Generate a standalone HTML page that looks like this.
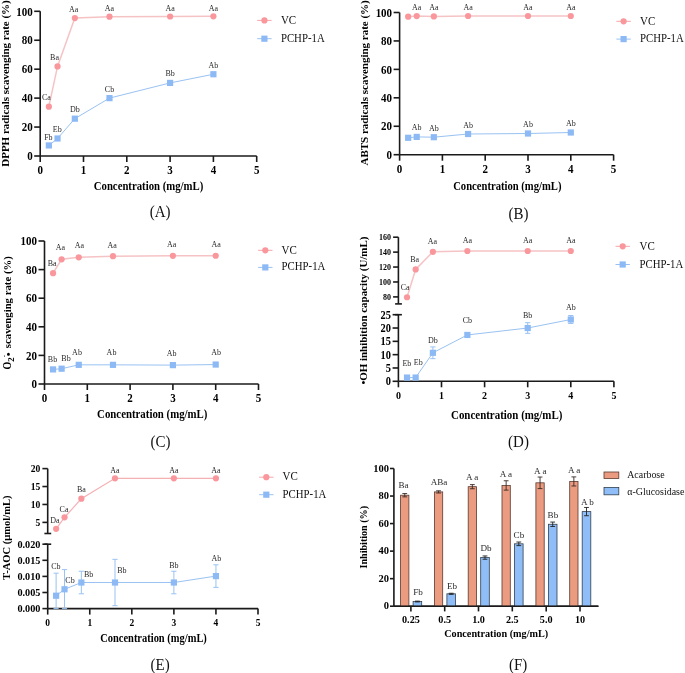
<!DOCTYPE html>
<html><head><meta charset="utf-8"><style>
html,body{margin:0;padding:0;background:#fff;}
svg{display:block;font-family:"Liberation Serif",serif;will-change:transform;}
</style></head><body>
<svg width="685" height="673" viewBox="0 0 685 673">
<rect width="685" height="673" fill="#fff"/>
<line x1="40.20" y1="11.30" x2="40.20" y2="156.00" stroke="#1a1a1a" stroke-width="1.6"/>
<line x1="34.20" y1="156.00" x2="40.20" y2="156.00" stroke="#1a1a1a" stroke-width="1.6"/>
<text font-size="11" font-weight="bold" text-anchor="end" fill="#000" transform="translate(32.70 160.20) scale(1 1.13)">0</text>
<line x1="34.20" y1="127.06" x2="40.20" y2="127.06" stroke="#1a1a1a" stroke-width="1.6"/>
<text font-size="11" font-weight="bold" text-anchor="end" fill="#000" transform="translate(32.70 131.26) scale(1 1.13)">20</text>
<line x1="34.20" y1="98.12" x2="40.20" y2="98.12" stroke="#1a1a1a" stroke-width="1.6"/>
<text font-size="11" font-weight="bold" text-anchor="end" fill="#000" transform="translate(32.70 102.32) scale(1 1.13)">40</text>
<line x1="34.20" y1="69.18" x2="40.20" y2="69.18" stroke="#1a1a1a" stroke-width="1.6"/>
<text font-size="11" font-weight="bold" text-anchor="end" fill="#000" transform="translate(32.70 73.38) scale(1 1.13)">60</text>
<line x1="34.20" y1="40.24" x2="40.20" y2="40.24" stroke="#1a1a1a" stroke-width="1.6"/>
<text font-size="11" font-weight="bold" text-anchor="end" fill="#000" transform="translate(32.70 44.44) scale(1 1.13)">80</text>
<line x1="34.20" y1="11.30" x2="40.20" y2="11.30" stroke="#1a1a1a" stroke-width="1.6"/>
<text font-size="11" font-weight="bold" text-anchor="end" fill="#000" transform="translate(32.70 15.50) scale(1 1.13)">100</text>
<line x1="40.20" y1="156.00" x2="256.70" y2="156.00" stroke="#1a1a1a" stroke-width="1.6"/>
<line x1="40.20" y1="156.00" x2="40.20" y2="162.00" stroke="#1a1a1a" stroke-width="1.6"/>
<text font-size="11" font-weight="bold" text-anchor="middle" fill="#000" transform="translate(40.20 174.00) scale(1 1.13)">0</text>
<line x1="83.50" y1="156.00" x2="83.50" y2="162.00" stroke="#1a1a1a" stroke-width="1.6"/>
<text font-size="11" font-weight="bold" text-anchor="middle" fill="#000" transform="translate(83.50 174.00) scale(1 1.13)">1</text>
<line x1="126.80" y1="156.00" x2="126.80" y2="162.00" stroke="#1a1a1a" stroke-width="1.6"/>
<text font-size="11" font-weight="bold" text-anchor="middle" fill="#000" transform="translate(126.80 174.00) scale(1 1.13)">2</text>
<line x1="170.10" y1="156.00" x2="170.10" y2="162.00" stroke="#1a1a1a" stroke-width="1.6"/>
<text font-size="11" font-weight="bold" text-anchor="middle" fill="#000" transform="translate(170.10 174.00) scale(1 1.13)">3</text>
<line x1="213.40" y1="156.00" x2="213.40" y2="162.00" stroke="#1a1a1a" stroke-width="1.6"/>
<text font-size="11" font-weight="bold" text-anchor="middle" fill="#000" transform="translate(213.40 174.00) scale(1 1.13)">4</text>
<line x1="256.70" y1="156.00" x2="256.70" y2="162.00" stroke="#1a1a1a" stroke-width="1.6"/>
<text font-size="11" font-weight="bold" text-anchor="middle" fill="#000" transform="translate(256.70 174.00) scale(1 1.13)">5</text>
<polyline points="48.86,106.66 57.52,66.43 74.84,18.10 109.48,16.65 170.10,16.51 213.40,16.36" fill="none" stroke="#F6C3C5" stroke-width="1.5"/>
<polyline points="48.86,145.44 57.52,138.49 74.84,118.67 109.48,98.12 170.10,82.93 213.40,74.24" fill="none" stroke="#99C2F2" stroke-width="1.0"/>
<circle cx="48.86" cy="106.66" r="3.1" fill="#F9979C"/>
<circle cx="57.52" cy="66.43" r="3.1" fill="#F9979C"/>
<circle cx="74.84" cy="18.10" r="3.1" fill="#F9979C"/>
<circle cx="109.48" cy="16.65" r="3.1" fill="#F9979C"/>
<circle cx="170.10" cy="16.51" r="3.1" fill="#F9979C"/>
<circle cx="213.40" cy="16.36" r="3.1" fill="#F9979C"/>
<rect x="45.76" y="142.34" width="6.2" height="6.2" fill="#8DBAF5"/>
<rect x="54.42" y="135.39" width="6.2" height="6.2" fill="#8DBAF5"/>
<rect x="71.74" y="115.57" width="6.2" height="6.2" fill="#8DBAF5"/>
<rect x="106.38" y="95.02" width="6.2" height="6.2" fill="#8DBAF5"/>
<rect x="167.00" y="79.83" width="6.2" height="6.2" fill="#8DBAF5"/>
<rect x="210.30" y="71.14" width="6.2" height="6.2" fill="#8DBAF5"/>
<text font-size="8" text-anchor="middle" fill="#2a2a2a" transform="translate(46.36 100.16) scale(1 1.13)">Ca</text>
<text font-size="8" text-anchor="middle" fill="#2a2a2a" transform="translate(54.52 59.93) scale(1 1.13)">Ba</text>
<text font-size="8" text-anchor="middle" fill="#2a2a2a" transform="translate(73.64 11.70) scale(1 1.13)">Aa</text>
<text font-size="8" text-anchor="middle" fill="#2a2a2a" transform="translate(109.48 10.95) scale(1 1.13)">Aa</text>
<text font-size="8" text-anchor="middle" fill="#2a2a2a" transform="translate(170.10 10.81) scale(1 1.13)">Aa</text>
<text font-size="8" text-anchor="middle" fill="#2a2a2a" transform="translate(213.40 10.66) scale(1 1.13)">Aa</text>
<text font-size="8" text-anchor="middle" fill="#2a2a2a" transform="translate(48.36 140.44) scale(1 1.13)">Fb</text>
<text font-size="8" text-anchor="middle" fill="#2a2a2a" transform="translate(57.22 131.79) scale(1 1.13)">Eb</text>
<text font-size="8" text-anchor="middle" fill="#2a2a2a" transform="translate(74.84 112.17) scale(1 1.13)">Db</text>
<text font-size="8" text-anchor="middle" fill="#2a2a2a" transform="translate(109.48 91.62) scale(1 1.13)">Cb</text>
<text font-size="8" text-anchor="middle" fill="#2a2a2a" transform="translate(170.10 76.43) scale(1 1.13)">Bb</text>
<text font-size="8" text-anchor="middle" fill="#2a2a2a" transform="translate(213.40 67.74) scale(1 1.13)">Ab</text>
<text font-size="11" font-weight="bold" text-anchor="middle" fill="#000" transform="translate(9.00 83.50) rotate(-90)" textLength="166.5" lengthAdjust="spacingAndGlyphs">DPPH radicals scavenging rate (%)</text>
<text font-size="11" font-weight="bold" text-anchor="middle" fill="#000" transform="translate(148.50 190.00) scale(1 1.13)" textLength="109.5" lengthAdjust="spacingAndGlyphs">Concentration (mg/mL)</text>
<text font-size="15" text-anchor="middle" fill="#111" transform="translate(160.10 217.30) scale(1 1.13)">(A)</text>
<line x1="257.20" y1="20.40" x2="271.60" y2="20.40" stroke="#F6A5A8" stroke-width="1.0"/>
<circle cx="264.40" cy="20.40" r="3.1" fill="#F9979C"/>
<line x1="257.20" y1="38.70" x2="271.60" y2="38.70" stroke="#99C2F2" stroke-width="1.0"/>
<rect x="261.30" y="35.60" width="6.2" height="6.2" fill="#8DBAF5"/>
<text font-size="11" text-anchor="start" fill="#111" transform="translate(280.90 23.60) scale(1 1.15)">VC</text>
<text font-size="11" text-anchor="start" fill="#111" transform="translate(280.90 41.70) scale(1 1.15)" textLength="43.8" lengthAdjust="spacingAndGlyphs">PCHP-1A</text>
<line x1="399.60" y1="12.50" x2="399.60" y2="154.70" stroke="#1a1a1a" stroke-width="1.6"/>
<line x1="393.60" y1="154.70" x2="399.60" y2="154.70" stroke="#1a1a1a" stroke-width="1.6"/>
<text font-size="11" font-weight="bold" text-anchor="end" fill="#000" transform="translate(392.10 158.90) scale(1 1.13)">0</text>
<line x1="393.60" y1="126.26" x2="399.60" y2="126.26" stroke="#1a1a1a" stroke-width="1.6"/>
<text font-size="11" font-weight="bold" text-anchor="end" fill="#000" transform="translate(392.10 130.46) scale(1 1.13)">20</text>
<line x1="393.60" y1="97.82" x2="399.60" y2="97.82" stroke="#1a1a1a" stroke-width="1.6"/>
<text font-size="11" font-weight="bold" text-anchor="end" fill="#000" transform="translate(392.10 102.02) scale(1 1.13)">40</text>
<line x1="393.60" y1="69.38" x2="399.60" y2="69.38" stroke="#1a1a1a" stroke-width="1.6"/>
<text font-size="11" font-weight="bold" text-anchor="end" fill="#000" transform="translate(392.10 73.58) scale(1 1.13)">60</text>
<line x1="393.60" y1="40.94" x2="399.60" y2="40.94" stroke="#1a1a1a" stroke-width="1.6"/>
<text font-size="11" font-weight="bold" text-anchor="end" fill="#000" transform="translate(392.10 45.14) scale(1 1.13)">80</text>
<line x1="393.60" y1="12.50" x2="399.60" y2="12.50" stroke="#1a1a1a" stroke-width="1.6"/>
<text font-size="11" font-weight="bold" text-anchor="end" fill="#000" transform="translate(392.10 16.70) scale(1 1.13)">100</text>
<line x1="399.60" y1="154.70" x2="613.60" y2="154.70" stroke="#1a1a1a" stroke-width="1.6"/>
<line x1="399.60" y1="154.70" x2="399.60" y2="160.70" stroke="#1a1a1a" stroke-width="1.6"/>
<text font-size="11" font-weight="bold" text-anchor="middle" fill="#000" transform="translate(399.60 173.40) scale(1 1.13)">0</text>
<line x1="442.40" y1="154.70" x2="442.40" y2="160.70" stroke="#1a1a1a" stroke-width="1.6"/>
<text font-size="11" font-weight="bold" text-anchor="middle" fill="#000" transform="translate(442.40 173.40) scale(1 1.13)">1</text>
<line x1="485.20" y1="154.70" x2="485.20" y2="160.70" stroke="#1a1a1a" stroke-width="1.6"/>
<text font-size="11" font-weight="bold" text-anchor="middle" fill="#000" transform="translate(485.20 173.40) scale(1 1.13)">2</text>
<line x1="528.00" y1="154.70" x2="528.00" y2="160.70" stroke="#1a1a1a" stroke-width="1.6"/>
<text font-size="11" font-weight="bold" text-anchor="middle" fill="#000" transform="translate(528.00 173.40) scale(1 1.13)">3</text>
<line x1="570.80" y1="154.70" x2="570.80" y2="160.70" stroke="#1a1a1a" stroke-width="1.6"/>
<text font-size="11" font-weight="bold" text-anchor="middle" fill="#000" transform="translate(570.80 173.40) scale(1 1.13)">4</text>
<line x1="613.60" y1="154.70" x2="613.60" y2="160.70" stroke="#1a1a1a" stroke-width="1.6"/>
<text font-size="11" font-weight="bold" text-anchor="middle" fill="#000" transform="translate(613.60 173.40) scale(1 1.13)">5</text>
<polyline points="408.16,16.70 416.72,16.10 433.84,16.40 468.08,16.00 528.00,16.00 570.80,16.00" fill="none" stroke="#F6C3C5" stroke-width="1.5"/>
<polyline points="408.16,137.80 416.72,136.90 433.84,137.20 468.08,134.00 528.00,133.50 570.80,132.50" fill="none" stroke="#99C2F2" stroke-width="1.0"/>
<circle cx="408.16" cy="16.70" r="3.1" fill="#F9979C"/>
<circle cx="416.72" cy="16.10" r="3.1" fill="#F9979C"/>
<circle cx="433.84" cy="16.40" r="3.1" fill="#F9979C"/>
<circle cx="468.08" cy="16.00" r="3.1" fill="#F9979C"/>
<circle cx="528.00" cy="16.00" r="3.1" fill="#F9979C"/>
<circle cx="570.80" cy="16.00" r="3.1" fill="#F9979C"/>
<rect x="405.06" y="134.70" width="6.2" height="6.2" fill="#8DBAF5"/>
<rect x="413.62" y="133.80" width="6.2" height="6.2" fill="#8DBAF5"/>
<rect x="430.74" y="134.10" width="6.2" height="6.2" fill="#8DBAF5"/>
<rect x="464.98" y="130.90" width="6.2" height="6.2" fill="#8DBAF5"/>
<rect x="524.90" y="130.40" width="6.2" height="6.2" fill="#8DBAF5"/>
<rect x="567.70" y="129.40" width="6.2" height="6.2" fill="#8DBAF5"/>
<text font-size="8" text-anchor="middle" fill="#2a2a2a" transform="translate(416.72 9.80) scale(1 1.13)">Aa</text>
<text font-size="8" text-anchor="middle" fill="#2a2a2a" transform="translate(433.84 10.10) scale(1 1.13)">Aa</text>
<text font-size="8" text-anchor="middle" fill="#2a2a2a" transform="translate(468.08 9.70) scale(1 1.13)">Aa</text>
<text font-size="8" text-anchor="middle" fill="#2a2a2a" transform="translate(528.00 9.70) scale(1 1.13)">Aa</text>
<text font-size="8" text-anchor="middle" fill="#2a2a2a" transform="translate(570.80 9.70) scale(1 1.13)">Aa</text>
<text font-size="8" text-anchor="middle" fill="#2a2a2a" transform="translate(416.72 130.40) scale(1 1.13)">Ab</text>
<text font-size="8" text-anchor="middle" fill="#2a2a2a" transform="translate(433.84 130.70) scale(1 1.13)">Ab</text>
<text font-size="8" text-anchor="middle" fill="#2a2a2a" transform="translate(468.08 127.50) scale(1 1.13)">Ab</text>
<text font-size="8" text-anchor="middle" fill="#2a2a2a" transform="translate(528.00 127.00) scale(1 1.13)">Ab</text>
<text font-size="8" text-anchor="middle" fill="#2a2a2a" transform="translate(570.80 126.00) scale(1 1.13)">Ab</text>
<text font-size="11" font-weight="bold" text-anchor="middle" fill="#000" transform="translate(367.70 82.90) rotate(-90)" textLength="165.3" lengthAdjust="spacingAndGlyphs">ABTS radicals scavenging rate (%)</text>
<text font-size="11" font-weight="bold" text-anchor="middle" fill="#000" transform="translate(507.30 189.70) scale(1 1.13)" textLength="108.3" lengthAdjust="spacingAndGlyphs">Concentration (mg/mL)</text>
<text font-size="15" text-anchor="middle" fill="#111" transform="translate(518.40 218.60) scale(1 1.13)">(B)</text>
<line x1="616.40" y1="21.30" x2="630.80" y2="21.30" stroke="#F6A5A8" stroke-width="1.0"/>
<circle cx="623.60" cy="21.30" r="3.1" fill="#F9979C"/>
<line x1="616.40" y1="39.10" x2="630.80" y2="39.10" stroke="#99C2F2" stroke-width="1.0"/>
<rect x="620.50" y="36.00" width="6.2" height="6.2" fill="#8DBAF5"/>
<text font-size="11" text-anchor="start" fill="#111" transform="translate(640.00 24.50) scale(1 1.15)">VC</text>
<text font-size="11" text-anchor="start" fill="#111" transform="translate(640.00 42.10) scale(1 1.15)" textLength="43.8" lengthAdjust="spacingAndGlyphs">PCHP-1A</text>
<line x1="44.50" y1="241.00" x2="44.50" y2="384.00" stroke="#1a1a1a" stroke-width="1.6"/>
<line x1="38.50" y1="384.00" x2="44.50" y2="384.00" stroke="#1a1a1a" stroke-width="1.6"/>
<text font-size="11" font-weight="bold" text-anchor="end" fill="#000" transform="translate(37.00 388.20) scale(1 1.13)">0</text>
<line x1="38.50" y1="355.40" x2="44.50" y2="355.40" stroke="#1a1a1a" stroke-width="1.6"/>
<text font-size="11" font-weight="bold" text-anchor="end" fill="#000" transform="translate(37.00 359.60) scale(1 1.13)">20</text>
<line x1="38.50" y1="326.80" x2="44.50" y2="326.80" stroke="#1a1a1a" stroke-width="1.6"/>
<text font-size="11" font-weight="bold" text-anchor="end" fill="#000" transform="translate(37.00 331.00) scale(1 1.13)">40</text>
<line x1="38.50" y1="298.20" x2="44.50" y2="298.20" stroke="#1a1a1a" stroke-width="1.6"/>
<text font-size="11" font-weight="bold" text-anchor="end" fill="#000" transform="translate(37.00 302.40) scale(1 1.13)">60</text>
<line x1="38.50" y1="269.60" x2="44.50" y2="269.60" stroke="#1a1a1a" stroke-width="1.6"/>
<text font-size="11" font-weight="bold" text-anchor="end" fill="#000" transform="translate(37.00 273.80) scale(1 1.13)">80</text>
<line x1="38.50" y1="241.00" x2="44.50" y2="241.00" stroke="#1a1a1a" stroke-width="1.6"/>
<text font-size="11" font-weight="bold" text-anchor="end" fill="#000" transform="translate(37.00 245.20) scale(1 1.13)">100</text>
<line x1="44.50" y1="384.00" x2="258.50" y2="384.00" stroke="#1a1a1a" stroke-width="1.6"/>
<line x1="44.50" y1="384.00" x2="44.50" y2="390.00" stroke="#1a1a1a" stroke-width="1.6"/>
<text font-size="11" font-weight="bold" text-anchor="middle" fill="#000" transform="translate(44.50 402.00) scale(1 1.13)">0</text>
<line x1="87.30" y1="384.00" x2="87.30" y2="390.00" stroke="#1a1a1a" stroke-width="1.6"/>
<text font-size="11" font-weight="bold" text-anchor="middle" fill="#000" transform="translate(87.30 402.00) scale(1 1.13)">1</text>
<line x1="130.10" y1="384.00" x2="130.10" y2="390.00" stroke="#1a1a1a" stroke-width="1.6"/>
<text font-size="11" font-weight="bold" text-anchor="middle" fill="#000" transform="translate(130.10 402.00) scale(1 1.13)">2</text>
<line x1="172.90" y1="384.00" x2="172.90" y2="390.00" stroke="#1a1a1a" stroke-width="1.6"/>
<text font-size="11" font-weight="bold" text-anchor="middle" fill="#000" transform="translate(172.90 402.00) scale(1 1.13)">3</text>
<line x1="215.70" y1="384.00" x2="215.70" y2="390.00" stroke="#1a1a1a" stroke-width="1.6"/>
<text font-size="11" font-weight="bold" text-anchor="middle" fill="#000" transform="translate(215.70 402.00) scale(1 1.13)">4</text>
<line x1="258.50" y1="384.00" x2="258.50" y2="390.00" stroke="#1a1a1a" stroke-width="1.6"/>
<text font-size="11" font-weight="bold" text-anchor="middle" fill="#000" transform="translate(258.50 402.00) scale(1 1.13)">5</text>
<polyline points="53.06,273.18 61.62,259.30 78.74,257.30 112.98,256.16 172.90,255.87 215.70,255.73" fill="none" stroke="#F6C3C5" stroke-width="1.5"/>
<polyline points="53.06,369.41 61.62,368.70 78.74,364.84 112.98,364.84 172.90,365.12 215.70,364.55" fill="none" stroke="#99C2F2" stroke-width="1.0"/>
<circle cx="53.06" cy="273.18" r="3.1" fill="#F9979C"/>
<circle cx="61.62" cy="259.30" r="3.1" fill="#F9979C"/>
<circle cx="78.74" cy="257.30" r="3.1" fill="#F9979C"/>
<circle cx="112.98" cy="256.16" r="3.1" fill="#F9979C"/>
<circle cx="172.90" cy="255.87" r="3.1" fill="#F9979C"/>
<circle cx="215.70" cy="255.73" r="3.1" fill="#F9979C"/>
<rect x="49.96" y="366.31" width="6.2" height="6.2" fill="#8DBAF5"/>
<rect x="58.52" y="365.60" width="6.2" height="6.2" fill="#8DBAF5"/>
<rect x="75.64" y="361.74" width="6.2" height="6.2" fill="#8DBAF5"/>
<rect x="109.88" y="361.74" width="6.2" height="6.2" fill="#8DBAF5"/>
<rect x="169.80" y="362.02" width="6.2" height="6.2" fill="#8DBAF5"/>
<rect x="212.60" y="361.45" width="6.2" height="6.2" fill="#8DBAF5"/>
<text font-size="8" text-anchor="middle" fill="#2a2a2a" transform="translate(52.10 265.60) scale(1 1.13)">Ba</text>
<text font-size="8" text-anchor="middle" fill="#2a2a2a" transform="translate(60.30 250.40) scale(1 1.13)">Aa</text>
<text font-size="8" text-anchor="middle" fill="#2a2a2a" transform="translate(79.30 248.10) scale(1 1.13)">Aa</text>
<text font-size="8" text-anchor="middle" fill="#2a2a2a" transform="translate(112.10 247.70) scale(1 1.13)">Aa</text>
<text font-size="8" text-anchor="middle" fill="#2a2a2a" transform="translate(171.70 246.80) scale(1 1.13)">Aa</text>
<text font-size="8" text-anchor="middle" fill="#2a2a2a" transform="translate(216.10 246.60) scale(1 1.13)">Aa</text>
<text font-size="8" text-anchor="middle" fill="#2a2a2a" transform="translate(52.50 361.70) scale(1 1.13)">Bb</text>
<text font-size="8" text-anchor="middle" fill="#2a2a2a" transform="translate(66.00 360.90) scale(1 1.13)">Bb</text>
<text font-size="8" text-anchor="middle" fill="#2a2a2a" transform="translate(77.00 355.30) scale(1 1.13)">Ab</text>
<text font-size="8" text-anchor="middle" fill="#2a2a2a" transform="translate(111.50 355.30) scale(1 1.13)">Ab</text>
<text font-size="8" text-anchor="middle" fill="#2a2a2a" transform="translate(171.70 355.90) scale(1 1.13)">Ab</text>
<text font-size="8" text-anchor="middle" fill="#2a2a2a" transform="translate(216.10 354.90) scale(1 1.13)">Ab</text>
<g transform="translate(11.2 369.2) rotate(-90)" font-weight="bold"><text x="-0.3" y="0" font-size="12" textLength="7.8" lengthAdjust="spacingAndGlyphs">O</text><text x="7.5" y="2.4" font-size="9">2</text><text x="12.0" y="-5.0" font-size="7">-</text><text x="13.0" y="0.5" font-size="11">•</text><text x="21.0" y="0" font-size="11" textLength="92" lengthAdjust="spacingAndGlyphs">scavenging rate (%)</text></g>
<text font-size="11" font-weight="bold" text-anchor="middle" fill="#000" transform="translate(152.25 417.90) scale(1 1.13)" textLength="110.3" lengthAdjust="spacingAndGlyphs">Concentration (mg/mL)</text>
<text font-size="15" text-anchor="middle" fill="#111" transform="translate(160.40 447.30) scale(1 1.13)">(C)</text>
<line x1="258.10" y1="250.30" x2="272.50" y2="250.30" stroke="#F6A5A8" stroke-width="1.0"/>
<circle cx="265.30" cy="250.30" r="3.1" fill="#F9979C"/>
<line x1="258.10" y1="267.40" x2="272.50" y2="267.40" stroke="#99C2F2" stroke-width="1.0"/>
<rect x="262.20" y="264.30" width="6.2" height="6.2" fill="#8DBAF5"/>
<text font-size="11" text-anchor="start" fill="#111" transform="translate(281.60 253.50) scale(1 1.15)">VC</text>
<text font-size="11" text-anchor="start" fill="#111" transform="translate(281.60 270.40) scale(1 1.15)" textLength="43.8" lengthAdjust="spacingAndGlyphs">PCHP-1A</text>
<line x1="398.40" y1="237.20" x2="398.40" y2="303.90" stroke="#1a1a1a" stroke-width="1.6"/>
<line x1="395.10" y1="303.90" x2="401.90" y2="303.90" stroke="#1a1a1a" stroke-width="1.6"/>
<line x1="393.10" y1="296.90" x2="398.40" y2="296.90" stroke="#1a1a1a" stroke-width="1.6"/>
<text font-size="8" font-weight="bold" text-anchor="end" fill="#000" transform="translate(391.10 299.96) scale(1 1.13)">80</text>
<line x1="393.10" y1="281.97" x2="398.40" y2="281.97" stroke="#1a1a1a" stroke-width="1.6"/>
<text font-size="8" font-weight="bold" text-anchor="end" fill="#000" transform="translate(391.10 285.03) scale(1 1.13)">100</text>
<line x1="393.10" y1="267.05" x2="398.40" y2="267.05" stroke="#1a1a1a" stroke-width="1.6"/>
<text font-size="8" font-weight="bold" text-anchor="end" fill="#000" transform="translate(391.10 270.11) scale(1 1.13)">120</text>
<line x1="393.10" y1="252.12" x2="398.40" y2="252.12" stroke="#1a1a1a" stroke-width="1.6"/>
<text font-size="8" font-weight="bold" text-anchor="end" fill="#000" transform="translate(391.10 255.18) scale(1 1.13)">140</text>
<line x1="393.10" y1="237.20" x2="398.40" y2="237.20" stroke="#1a1a1a" stroke-width="1.6"/>
<text font-size="8" font-weight="bold" text-anchor="end" fill="#000" transform="translate(391.10 240.26) scale(1 1.13)">160</text>
<line x1="398.40" y1="314.70" x2="398.40" y2="381.30" stroke="#1a1a1a" stroke-width="1.6"/>
<line x1="395.10" y1="314.70" x2="401.90" y2="314.70" stroke="#1a1a1a" stroke-width="1.6"/>
<line x1="392.60" y1="381.30" x2="398.40" y2="381.30" stroke="#1a1a1a" stroke-width="1.6"/>
<text font-size="10.4" font-weight="bold" text-anchor="end" fill="#000" transform="translate(391.00 385.27) scale(1 1.13)">0</text>
<line x1="392.60" y1="367.98" x2="398.40" y2="367.98" stroke="#1a1a1a" stroke-width="1.6"/>
<text font-size="10.4" font-weight="bold" text-anchor="end" fill="#000" transform="translate(391.00 371.95) scale(1 1.13)">5</text>
<line x1="392.60" y1="354.66" x2="398.40" y2="354.66" stroke="#1a1a1a" stroke-width="1.6"/>
<text font-size="10.4" font-weight="bold" text-anchor="end" fill="#000" transform="translate(391.00 358.63) scale(1 1.13)">10</text>
<line x1="392.60" y1="341.34" x2="398.40" y2="341.34" stroke="#1a1a1a" stroke-width="1.6"/>
<text font-size="10.4" font-weight="bold" text-anchor="end" fill="#000" transform="translate(391.00 345.31) scale(1 1.13)">15</text>
<line x1="392.60" y1="328.02" x2="398.40" y2="328.02" stroke="#1a1a1a" stroke-width="1.6"/>
<text font-size="10.4" font-weight="bold" text-anchor="end" fill="#000" transform="translate(391.00 331.99) scale(1 1.13)">20</text>
<line x1="392.60" y1="314.70" x2="398.40" y2="314.70" stroke="#1a1a1a" stroke-width="1.6"/>
<text font-size="10.4" font-weight="bold" text-anchor="end" fill="#000" transform="translate(391.00 318.67) scale(1 1.13)">25</text>
<line x1="398.40" y1="381.30" x2="613.90" y2="381.30" stroke="#1a1a1a" stroke-width="1.6"/>
<line x1="398.40" y1="381.30" x2="398.40" y2="387.30" stroke="#1a1a1a" stroke-width="1.6"/>
<text font-size="10" font-weight="bold" text-anchor="middle" fill="#000" transform="translate(398.40 398.90) scale(1 1.13)">0</text>
<line x1="441.50" y1="381.30" x2="441.50" y2="387.30" stroke="#1a1a1a" stroke-width="1.6"/>
<text font-size="10" font-weight="bold" text-anchor="middle" fill="#000" transform="translate(441.50 398.90) scale(1 1.13)">1</text>
<line x1="484.60" y1="381.30" x2="484.60" y2="387.30" stroke="#1a1a1a" stroke-width="1.6"/>
<text font-size="10" font-weight="bold" text-anchor="middle" fill="#000" transform="translate(484.60 398.90) scale(1 1.13)">2</text>
<line x1="527.70" y1="381.30" x2="527.70" y2="387.30" stroke="#1a1a1a" stroke-width="1.6"/>
<text font-size="10" font-weight="bold" text-anchor="middle" fill="#000" transform="translate(527.70 398.90) scale(1 1.13)">3</text>
<line x1="570.80" y1="381.30" x2="570.80" y2="387.30" stroke="#1a1a1a" stroke-width="1.6"/>
<text font-size="10" font-weight="bold" text-anchor="middle" fill="#000" transform="translate(570.80 398.90) scale(1 1.13)">4</text>
<line x1="613.90" y1="381.30" x2="613.90" y2="387.30" stroke="#1a1a1a" stroke-width="1.6"/>
<text font-size="10" font-weight="bold" text-anchor="middle" fill="#000" transform="translate(613.90 398.90) scale(1 1.13)">5</text>
<polyline points="407.02,297.27 415.64,269.44 432.88,251.83 467.36,251.01 527.70,251.01 570.80,251.01" fill="none" stroke="#F6C3C5" stroke-width="1.5"/>
<polyline points="407.02,377.57 415.64,377.57 432.88,352.80 467.36,334.95 527.70,328.02 570.80,319.50" fill="none" stroke="#99C2F2" stroke-width="1.0"/>
<line x1="407.02" y1="376.50" x2="407.02" y2="378.64" stroke="#99C2F2" stroke-width="1.0"/>
<line x1="404.42" y1="376.50" x2="409.62" y2="376.50" stroke="#99C2F2" stroke-width="1.0"/>
<line x1="404.42" y1="378.64" x2="409.62" y2="378.64" stroke="#99C2F2" stroke-width="1.0"/>
<line x1="415.64" y1="376.50" x2="415.64" y2="378.64" stroke="#99C2F2" stroke-width="1.0"/>
<line x1="413.04" y1="376.50" x2="418.24" y2="376.50" stroke="#99C2F2" stroke-width="1.0"/>
<line x1="413.04" y1="378.64" x2="418.24" y2="378.64" stroke="#99C2F2" stroke-width="1.0"/>
<line x1="432.88" y1="346.93" x2="432.88" y2="358.66" stroke="#99C2F2" stroke-width="1.0"/>
<line x1="430.28" y1="346.93" x2="435.48" y2="346.93" stroke="#99C2F2" stroke-width="1.0"/>
<line x1="430.28" y1="358.66" x2="435.48" y2="358.66" stroke="#99C2F2" stroke-width="1.0"/>
<line x1="467.36" y1="333.35" x2="467.36" y2="336.54" stroke="#99C2F2" stroke-width="1.0"/>
<line x1="464.76" y1="333.35" x2="469.96" y2="333.35" stroke="#99C2F2" stroke-width="1.0"/>
<line x1="464.76" y1="336.54" x2="469.96" y2="336.54" stroke="#99C2F2" stroke-width="1.0"/>
<line x1="527.70" y1="322.69" x2="527.70" y2="333.35" stroke="#99C2F2" stroke-width="1.0"/>
<line x1="525.10" y1="322.69" x2="530.30" y2="322.69" stroke="#99C2F2" stroke-width="1.0"/>
<line x1="525.10" y1="333.35" x2="530.30" y2="333.35" stroke="#99C2F2" stroke-width="1.0"/>
<line x1="570.80" y1="315.50" x2="570.80" y2="323.49" stroke="#99C2F2" stroke-width="1.0"/>
<line x1="568.20" y1="315.50" x2="573.40" y2="315.50" stroke="#99C2F2" stroke-width="1.0"/>
<line x1="568.20" y1="323.49" x2="573.40" y2="323.49" stroke="#99C2F2" stroke-width="1.0"/>
<circle cx="407.02" cy="297.27" r="3.1" fill="#F9979C"/>
<circle cx="415.64" cy="269.44" r="3.1" fill="#F9979C"/>
<circle cx="432.88" cy="251.83" r="3.1" fill="#F9979C"/>
<circle cx="467.36" cy="251.01" r="3.1" fill="#F9979C"/>
<circle cx="527.70" cy="251.01" r="3.1" fill="#F9979C"/>
<circle cx="570.80" cy="251.01" r="3.1" fill="#F9979C"/>
<rect x="403.92" y="374.47" width="6.2" height="6.2" fill="#8DBAF5"/>
<rect x="412.54" y="374.47" width="6.2" height="6.2" fill="#8DBAF5"/>
<rect x="429.78" y="349.70" width="6.2" height="6.2" fill="#8DBAF5"/>
<rect x="464.26" y="331.85" width="6.2" height="6.2" fill="#8DBAF5"/>
<rect x="524.60" y="324.92" width="6.2" height="6.2" fill="#8DBAF5"/>
<rect x="567.70" y="316.40" width="6.2" height="6.2" fill="#8DBAF5"/>
<text font-size="8" text-anchor="middle" fill="#2a2a2a" transform="translate(405.22 290.27) scale(1 1.13)">Ca</text>
<text font-size="8" text-anchor="middle" fill="#2a2a2a" transform="translate(414.64 262.44) scale(1 1.13)">Ba</text>
<text font-size="8" text-anchor="middle" fill="#2a2a2a" transform="translate(432.38 243.83) scale(1 1.13)">Aa</text>
<text font-size="8" text-anchor="middle" fill="#2a2a2a" transform="translate(467.36 243.01) scale(1 1.13)">Aa</text>
<text font-size="8" text-anchor="middle" fill="#2a2a2a" transform="translate(527.70 243.01) scale(1 1.13)">Aa</text>
<text font-size="8" text-anchor="middle" fill="#2a2a2a" transform="translate(570.80 243.01) scale(1 1.13)">Aa</text>
<text font-size="8" text-anchor="middle" fill="#2a2a2a" transform="translate(406.90 365.50) scale(1 1.13)">Eb</text>
<text font-size="8" text-anchor="middle" fill="#2a2a2a" transform="translate(418.30 365.20) scale(1 1.13)">Eb</text>
<text font-size="8" text-anchor="middle" fill="#2a2a2a" transform="translate(432.88 342.80) scale(1 1.13)">Db</text>
<text font-size="8" text-anchor="middle" fill="#2a2a2a" transform="translate(467.36 322.95) scale(1 1.13)">Cb</text>
<text font-size="8" text-anchor="middle" fill="#2a2a2a" transform="translate(527.70 318.02) scale(1 1.13)">Bb</text>
<text font-size="8" text-anchor="middle" fill="#2a2a2a" transform="translate(570.80 309.50) scale(1 1.13)">Ab</text>
<text font-size="11" font-weight="bold" text-anchor="middle" fill="#000" transform="translate(367.30 310.60) rotate(-90)" textLength="148" lengthAdjust="spacingAndGlyphs">•OH inhibition capacity (U/mL)</text>
<text font-size="11" font-weight="bold" text-anchor="middle" fill="#000" transform="translate(506.70 419.20) scale(1 1.13)" textLength="111.4" lengthAdjust="spacingAndGlyphs">Concentration (mg/mL)</text>
<text font-size="15" text-anchor="middle" fill="#111" transform="translate(518.50 447.00) scale(1 1.13)">(D)</text>
<line x1="615.50" y1="246.30" x2="629.90" y2="246.30" stroke="#F6A5A8" stroke-width="1.0"/>
<circle cx="622.70" cy="246.30" r="3.1" fill="#F9979C"/>
<line x1="615.50" y1="264.50" x2="629.90" y2="264.50" stroke="#99C2F2" stroke-width="1.0"/>
<rect x="619.60" y="261.40" width="6.2" height="6.2" fill="#8DBAF5"/>
<text font-size="11" text-anchor="start" fill="#111" transform="translate(639.50 249.50) scale(1 1.15)">VC</text>
<text font-size="11" text-anchor="start" fill="#111" transform="translate(639.50 267.50) scale(1 1.15)" textLength="43.8" lengthAdjust="spacingAndGlyphs">PCHP-1A</text>
<line x1="47.70" y1="468.60" x2="47.70" y2="533.50" stroke="#1a1a1a" stroke-width="1.6"/>
<line x1="44.40" y1="533.50" x2="51.20" y2="533.50" stroke="#1a1a1a" stroke-width="1.6"/>
<line x1="42.40" y1="522.39" x2="47.70" y2="522.39" stroke="#1a1a1a" stroke-width="1.6"/>
<text font-size="9.6" font-weight="bold" text-anchor="end" fill="#000" transform="translate(40.40 526.06) scale(1 1.13)">5</text>
<line x1="42.40" y1="504.46" x2="47.70" y2="504.46" stroke="#1a1a1a" stroke-width="1.6"/>
<text font-size="9.6" font-weight="bold" text-anchor="end" fill="#000" transform="translate(40.40 508.13) scale(1 1.13)">10</text>
<line x1="42.40" y1="486.53" x2="47.70" y2="486.53" stroke="#1a1a1a" stroke-width="1.6"/>
<text font-size="9.6" font-weight="bold" text-anchor="end" fill="#000" transform="translate(40.40 490.20) scale(1 1.13)">15</text>
<line x1="42.40" y1="468.60" x2="47.70" y2="468.60" stroke="#1a1a1a" stroke-width="1.6"/>
<text font-size="9.6" font-weight="bold" text-anchor="end" fill="#000" transform="translate(40.40 472.27) scale(1 1.13)">20</text>
<line x1="47.70" y1="544.20" x2="47.70" y2="608.60" stroke="#1a1a1a" stroke-width="1.6"/>
<line x1="44.40" y1="544.20" x2="51.20" y2="544.20" stroke="#1a1a1a" stroke-width="1.6"/>
<line x1="42.40" y1="608.60" x2="47.70" y2="608.60" stroke="#1a1a1a" stroke-width="1.6"/>
<text font-size="10" font-weight="bold" text-anchor="end" fill="#000" transform="translate(40.40 612.42) scale(1 1.13)" textLength="23" lengthAdjust="spacingAndGlyphs">0.000</text>
<line x1="42.40" y1="592.50" x2="47.70" y2="592.50" stroke="#1a1a1a" stroke-width="1.6"/>
<text font-size="10" font-weight="bold" text-anchor="end" fill="#000" transform="translate(40.40 596.32) scale(1 1.13)" textLength="23" lengthAdjust="spacingAndGlyphs">0.005</text>
<line x1="42.40" y1="576.40" x2="47.70" y2="576.40" stroke="#1a1a1a" stroke-width="1.6"/>
<text font-size="10" font-weight="bold" text-anchor="end" fill="#000" transform="translate(40.40 580.22) scale(1 1.13)" textLength="23" lengthAdjust="spacingAndGlyphs">0.010</text>
<line x1="42.40" y1="560.30" x2="47.70" y2="560.30" stroke="#1a1a1a" stroke-width="1.6"/>
<text font-size="10" font-weight="bold" text-anchor="end" fill="#000" transform="translate(40.40 564.12) scale(1 1.13)" textLength="23" lengthAdjust="spacingAndGlyphs">0.015</text>
<line x1="42.40" y1="544.20" x2="47.70" y2="544.20" stroke="#1a1a1a" stroke-width="1.6"/>
<text font-size="10" font-weight="bold" text-anchor="end" fill="#000" transform="translate(40.40 548.02) scale(1 1.13)" textLength="23" lengthAdjust="spacingAndGlyphs">0.020</text>
<line x1="47.70" y1="608.60" x2="258.00" y2="608.60" stroke="#1a1a1a" stroke-width="1.6"/>
<line x1="47.70" y1="608.60" x2="47.70" y2="614.60" stroke="#1a1a1a" stroke-width="1.6"/>
<text font-size="9.5" font-weight="bold" text-anchor="middle" fill="#000" transform="translate(47.70 625.70) scale(1 1.13)">0</text>
<line x1="89.76" y1="608.60" x2="89.76" y2="614.60" stroke="#1a1a1a" stroke-width="1.6"/>
<text font-size="9.5" font-weight="bold" text-anchor="middle" fill="#000" transform="translate(89.76 625.70) scale(1 1.13)">1</text>
<line x1="131.82" y1="608.60" x2="131.82" y2="614.60" stroke="#1a1a1a" stroke-width="1.6"/>
<text font-size="9.5" font-weight="bold" text-anchor="middle" fill="#000" transform="translate(131.82 625.70) scale(1 1.13)">2</text>
<line x1="173.88" y1="608.60" x2="173.88" y2="614.60" stroke="#1a1a1a" stroke-width="1.6"/>
<text font-size="9.5" font-weight="bold" text-anchor="middle" fill="#000" transform="translate(173.88 625.70) scale(1 1.13)">3</text>
<line x1="215.94" y1="608.60" x2="215.94" y2="614.60" stroke="#1a1a1a" stroke-width="1.6"/>
<text font-size="9.5" font-weight="bold" text-anchor="middle" fill="#000" transform="translate(215.94 625.70) scale(1 1.13)">4</text>
<line x1="258.00" y1="608.60" x2="258.00" y2="614.60" stroke="#1a1a1a" stroke-width="1.6"/>
<text font-size="9.5" font-weight="bold" text-anchor="middle" fill="#000" transform="translate(258.00 625.70) scale(1 1.13)">5</text>
<polyline points="56.11,528.84 64.52,517.37 81.35,498.72 115.00,478.28 173.88,478.28 215.94,478.28" fill="none" stroke="#F5B0B4" stroke-width="1.2"/>
<polyline points="56.11,595.72 64.52,589.28 81.35,582.52 115.00,582.52 173.88,582.52 215.94,576.08" fill="none" stroke="#99C2F2" stroke-width="1.0"/>
<line x1="56.11" y1="573.18" x2="56.11" y2="608.60" stroke="#99C2F2" stroke-width="1.0"/>
<line x1="53.51" y1="573.18" x2="58.71" y2="573.18" stroke="#99C2F2" stroke-width="1.0"/>
<line x1="53.51" y1="608.60" x2="58.71" y2="608.60" stroke="#99C2F2" stroke-width="1.0"/>
<line x1="64.52" y1="569.64" x2="64.52" y2="608.60" stroke="#99C2F2" stroke-width="1.0"/>
<line x1="61.92" y1="569.64" x2="67.12" y2="569.64" stroke="#99C2F2" stroke-width="1.0"/>
<line x1="61.92" y1="608.60" x2="67.12" y2="608.60" stroke="#99C2F2" stroke-width="1.0"/>
<line x1="81.35" y1="571.25" x2="81.35" y2="593.79" stroke="#99C2F2" stroke-width="1.0"/>
<line x1="78.75" y1="571.25" x2="83.95" y2="571.25" stroke="#99C2F2" stroke-width="1.0"/>
<line x1="78.75" y1="593.79" x2="83.95" y2="593.79" stroke="#99C2F2" stroke-width="1.0"/>
<line x1="115.00" y1="559.33" x2="115.00" y2="605.70" stroke="#99C2F2" stroke-width="1.0"/>
<line x1="112.40" y1="559.33" x2="117.60" y2="559.33" stroke="#99C2F2" stroke-width="1.0"/>
<line x1="112.40" y1="605.70" x2="117.60" y2="605.70" stroke="#99C2F2" stroke-width="1.0"/>
<line x1="173.88" y1="571.25" x2="173.88" y2="593.79" stroke="#99C2F2" stroke-width="1.0"/>
<line x1="171.28" y1="571.25" x2="176.48" y2="571.25" stroke="#99C2F2" stroke-width="1.0"/>
<line x1="171.28" y1="593.79" x2="176.48" y2="593.79" stroke="#99C2F2" stroke-width="1.0"/>
<line x1="215.94" y1="564.81" x2="215.94" y2="587.35" stroke="#99C2F2" stroke-width="1.0"/>
<line x1="213.34" y1="564.81" x2="218.54" y2="564.81" stroke="#99C2F2" stroke-width="1.0"/>
<line x1="213.34" y1="587.35" x2="218.54" y2="587.35" stroke="#99C2F2" stroke-width="1.0"/>
<circle cx="56.11" cy="528.84" r="3.1" fill="#F9979C"/>
<circle cx="64.52" cy="517.37" r="3.1" fill="#F9979C"/>
<circle cx="81.35" cy="498.72" r="3.1" fill="#F9979C"/>
<circle cx="115.00" cy="478.28" r="3.1" fill="#F9979C"/>
<circle cx="173.88" cy="478.28" r="3.1" fill="#F9979C"/>
<circle cx="215.94" cy="478.28" r="3.1" fill="#F9979C"/>
<rect x="53.01" y="592.62" width="6.2" height="6.2" fill="#8DBAF5"/>
<rect x="61.42" y="586.18" width="6.2" height="6.2" fill="#8DBAF5"/>
<rect x="78.25" y="579.42" width="6.2" height="6.2" fill="#8DBAF5"/>
<rect x="111.90" y="579.42" width="6.2" height="6.2" fill="#8DBAF5"/>
<rect x="170.78" y="579.42" width="6.2" height="6.2" fill="#8DBAF5"/>
<rect x="212.84" y="572.98" width="6.2" height="6.2" fill="#8DBAF5"/>
<text font-size="8" text-anchor="middle" fill="#2a2a2a" transform="translate(54.91 522.54) scale(1 1.13)">Da</text>
<text font-size="8" text-anchor="middle" fill="#2a2a2a" transform="translate(64.02 511.87) scale(1 1.13)">Ca</text>
<text font-size="8" text-anchor="middle" fill="#2a2a2a" transform="translate(81.35 491.72) scale(1 1.13)">Ba</text>
<text font-size="8" text-anchor="middle" fill="#2a2a2a" transform="translate(115.00 473.08) scale(1 1.13)">Aa</text>
<text font-size="8" text-anchor="middle" fill="#2a2a2a" transform="translate(173.88 473.08) scale(1 1.13)">Aa</text>
<text font-size="8" text-anchor="middle" fill="#2a2a2a" transform="translate(215.94 473.08) scale(1 1.13)">Aa</text>
<text font-size="8" text-anchor="middle" fill="#2a2a2a" transform="translate(55.81 569.30) scale(1 1.13)">Cb</text>
<text font-size="8" text-anchor="middle" fill="#2a2a2a" transform="translate(70.02 582.60) scale(1 1.13)">Cb</text>
<text font-size="8" text-anchor="middle" fill="#2a2a2a" transform="translate(88.55 576.80) scale(1 1.13)">Bb</text>
<text font-size="8" text-anchor="middle" fill="#2a2a2a" transform="translate(121.80 573.20) scale(1 1.13)">Bb</text>
<text font-size="8" text-anchor="middle" fill="#2a2a2a" transform="translate(173.88 567.70) scale(1 1.13)">Bb</text>
<text font-size="8" text-anchor="middle" fill="#2a2a2a" transform="translate(216.44 560.50) scale(1 1.13)">Ab</text>
<text font-size="11" font-weight="bold" text-anchor="middle" fill="#000" transform="translate(10.20 537.70) rotate(-90)" textLength="84.4" lengthAdjust="spacingAndGlyphs">T-AOC (μmol/mL)</text>
<text font-size="11" font-weight="bold" text-anchor="middle" fill="#000" transform="translate(153.50 642.30) scale(1 1.13)" textLength="106.7" lengthAdjust="spacingAndGlyphs">Concentration (mg/mL)</text>
<text font-size="15" text-anchor="middle" fill="#111" transform="translate(160.10 669.90) scale(1 1.13)">(E)</text>
<line x1="259.10" y1="477.20" x2="273.50" y2="477.20" stroke="#F6A5A8" stroke-width="1.0"/>
<circle cx="266.30" cy="477.20" r="3.1" fill="#F9979C"/>
<line x1="259.10" y1="494.70" x2="273.50" y2="494.70" stroke="#99C2F2" stroke-width="1.0"/>
<rect x="263.20" y="491.60" width="6.2" height="6.2" fill="#8DBAF5"/>
<text font-size="11" text-anchor="start" fill="#111" transform="translate(282.60 480.40) scale(1 1.15)">VC</text>
<text font-size="11" text-anchor="start" fill="#111" transform="translate(282.60 497.70) scale(1 1.15)" textLength="43.8" lengthAdjust="spacingAndGlyphs">PCHP-1A</text>
<line x1="393.90" y1="468.50" x2="393.90" y2="606.20" stroke="#1a1a1a" stroke-width="1.6"/>
<line x1="393.90" y1="606.20" x2="598.40" y2="606.20" stroke="#1a1a1a" stroke-width="1.6"/>
<line x1="390.00" y1="606.20" x2="393.90" y2="606.20" stroke="#1a1a1a" stroke-width="1.6"/>
<text font-size="10.5" font-weight="bold" text-anchor="end" fill="#000" transform="translate(388.90 609.35)">0</text>
<line x1="390.00" y1="578.66" x2="393.90" y2="578.66" stroke="#1a1a1a" stroke-width="1.6"/>
<text font-size="10.5" font-weight="bold" text-anchor="end" fill="#000" transform="translate(388.90 581.81)">20</text>
<line x1="390.00" y1="551.12" x2="393.90" y2="551.12" stroke="#1a1a1a" stroke-width="1.6"/>
<text font-size="10.5" font-weight="bold" text-anchor="end" fill="#000" transform="translate(388.90 554.27)">40</text>
<line x1="390.00" y1="523.58" x2="393.90" y2="523.58" stroke="#1a1a1a" stroke-width="1.6"/>
<text font-size="10.5" font-weight="bold" text-anchor="end" fill="#000" transform="translate(388.90 526.73)">60</text>
<line x1="390.00" y1="496.04" x2="393.90" y2="496.04" stroke="#1a1a1a" stroke-width="1.6"/>
<text font-size="10.5" font-weight="bold" text-anchor="end" fill="#000" transform="translate(388.90 499.19)">80</text>
<line x1="390.00" y1="468.50" x2="393.90" y2="468.50" stroke="#1a1a1a" stroke-width="1.6"/>
<text font-size="10.5" font-weight="bold" text-anchor="end" fill="#000" transform="translate(388.90 471.65)">100</text>
<line x1="410.90" y1="606.20" x2="410.90" y2="611.40" stroke="#1a1a1a" stroke-width="1.6"/>
<text font-size="10.2" font-weight="bold" text-anchor="middle" fill="#000" transform="translate(410.90 622.50)">0.25</text>
<rect x="400.60" y="495.21" width="8.3" height="110.99" fill="#EA9B80" stroke="#5a3a30" stroke-width="0.8"/>
<line x1="404.75" y1="493.56" x2="404.75" y2="496.87" stroke="#3a2a25" stroke-width="0.9"/>
<line x1="402.35" y1="493.56" x2="407.15" y2="493.56" stroke="#3a2a25" stroke-width="0.9"/>
<line x1="402.35" y1="496.87" x2="407.15" y2="496.87" stroke="#3a2a25" stroke-width="0.9"/>
<rect x="413.10" y="601.52" width="8.6" height="4.68" fill="#8FBDF7" stroke="#33404f" stroke-width="0.8"/>
<line x1="417.40" y1="601.11" x2="417.40" y2="601.93" stroke="#222" stroke-width="0.9"/>
<line x1="415.00" y1="601.11" x2="419.80" y2="601.11" stroke="#222" stroke-width="0.9"/>
<line x1="415.00" y1="601.93" x2="419.80" y2="601.93" stroke="#222" stroke-width="0.9"/>
<text font-size="9.1" text-anchor="middle" fill="#2a2a2a" transform="translate(403.60 488.20) scale(1 1.02)">Ba</text>
<text font-size="9.1" text-anchor="middle" fill="#2a2a2a" transform="translate(418.10 595.10) scale(1 1.02)">Fb</text>
<line x1="444.70" y1="606.20" x2="444.70" y2="611.40" stroke="#1a1a1a" stroke-width="1.6"/>
<text font-size="10.2" font-weight="bold" text-anchor="middle" fill="#000" transform="translate(444.70 622.50)">0.5</text>
<rect x="434.40" y="491.91" width="8.3" height="114.29" fill="#EA9B80" stroke="#5a3a30" stroke-width="0.8"/>
<line x1="438.55" y1="490.81" x2="438.55" y2="493.01" stroke="#3a2a25" stroke-width="0.9"/>
<line x1="436.15" y1="490.81" x2="440.95" y2="490.81" stroke="#3a2a25" stroke-width="0.9"/>
<line x1="436.15" y1="493.01" x2="440.95" y2="493.01" stroke="#3a2a25" stroke-width="0.9"/>
<rect x="446.90" y="593.81" width="8.6" height="12.39" fill="#8FBDF7" stroke="#33404f" stroke-width="0.8"/>
<line x1="451.20" y1="593.26" x2="451.20" y2="594.36" stroke="#222" stroke-width="0.9"/>
<line x1="448.80" y1="593.26" x2="453.60" y2="593.26" stroke="#222" stroke-width="0.9"/>
<line x1="448.80" y1="594.36" x2="453.60" y2="594.36" stroke="#222" stroke-width="0.9"/>
<text font-size="9.1" text-anchor="middle" fill="#2a2a2a" transform="translate(439.00 484.50) scale(1 1.02)">ABa</text>
<text font-size="9.1" text-anchor="middle" fill="#2a2a2a" transform="translate(452.00 588.70) scale(1 1.02)">Eb</text>
<line x1="478.50" y1="606.20" x2="478.50" y2="611.40" stroke="#1a1a1a" stroke-width="1.6"/>
<text font-size="10.2" font-weight="bold" text-anchor="middle" fill="#000" transform="translate(478.50 622.50)">1.0</text>
<rect x="468.20" y="486.68" width="8.3" height="119.52" fill="#EA9B80" stroke="#5a3a30" stroke-width="0.8"/>
<line x1="472.35" y1="484.61" x2="472.35" y2="488.74" stroke="#3a2a25" stroke-width="0.9"/>
<line x1="469.95" y1="484.61" x2="474.75" y2="484.61" stroke="#3a2a25" stroke-width="0.9"/>
<line x1="469.95" y1="488.74" x2="474.75" y2="488.74" stroke="#3a2a25" stroke-width="0.9"/>
<rect x="480.70" y="557.59" width="8.6" height="48.61" fill="#8FBDF7" stroke="#33404f" stroke-width="0.8"/>
<line x1="485.00" y1="555.94" x2="485.00" y2="559.24" stroke="#222" stroke-width="0.9"/>
<line x1="482.60" y1="555.94" x2="487.40" y2="555.94" stroke="#222" stroke-width="0.9"/>
<line x1="482.60" y1="559.24" x2="487.40" y2="559.24" stroke="#222" stroke-width="0.9"/>
<text font-size="9.1" text-anchor="middle" fill="#2a2a2a" transform="translate(472.10 480.00) scale(1 1.02)">A a</text>
<text font-size="9.1" text-anchor="middle" fill="#2a2a2a" transform="translate(486.10 551.00) scale(1 1.02)">Db</text>
<line x1="512.30" y1="606.20" x2="512.30" y2="611.40" stroke="#1a1a1a" stroke-width="1.6"/>
<text font-size="10.2" font-weight="bold" text-anchor="middle" fill="#000" transform="translate(512.30 622.50)">2.5</text>
<rect x="502.00" y="485.44" width="8.3" height="120.76" fill="#EA9B80" stroke="#5a3a30" stroke-width="0.8"/>
<line x1="506.15" y1="480.76" x2="506.15" y2="490.12" stroke="#3a2a25" stroke-width="0.9"/>
<line x1="503.75" y1="480.76" x2="508.55" y2="480.76" stroke="#3a2a25" stroke-width="0.9"/>
<line x1="503.75" y1="490.12" x2="508.55" y2="490.12" stroke="#3a2a25" stroke-width="0.9"/>
<rect x="514.50" y="543.82" width="8.6" height="62.38" fill="#8FBDF7" stroke="#33404f" stroke-width="0.8"/>
<line x1="518.80" y1="542.03" x2="518.80" y2="545.61" stroke="#222" stroke-width="0.9"/>
<line x1="516.40" y1="542.03" x2="521.20" y2="542.03" stroke="#222" stroke-width="0.9"/>
<line x1="516.40" y1="545.61" x2="521.20" y2="545.61" stroke="#222" stroke-width="0.9"/>
<text font-size="9.1" text-anchor="middle" fill="#2a2a2a" transform="translate(505.90 476.50) scale(1 1.02)">A a</text>
<text font-size="9.1" text-anchor="middle" fill="#2a2a2a" transform="translate(518.90 537.90) scale(1 1.02)">Cb</text>
<line x1="546.20" y1="606.20" x2="546.20" y2="611.40" stroke="#1a1a1a" stroke-width="1.6"/>
<text font-size="10.2" font-weight="bold" text-anchor="middle" fill="#000" transform="translate(546.20 622.50)">5.0</text>
<rect x="535.90" y="482.82" width="8.3" height="123.38" fill="#EA9B80" stroke="#5a3a30" stroke-width="0.8"/>
<line x1="540.05" y1="477.04" x2="540.05" y2="488.60" stroke="#3a2a25" stroke-width="0.9"/>
<line x1="537.65" y1="477.04" x2="542.45" y2="477.04" stroke="#3a2a25" stroke-width="0.9"/>
<line x1="537.65" y1="488.60" x2="542.45" y2="488.60" stroke="#3a2a25" stroke-width="0.9"/>
<rect x="548.40" y="524.27" width="8.6" height="81.93" fill="#8FBDF7" stroke="#33404f" stroke-width="0.8"/>
<line x1="552.70" y1="522.07" x2="552.70" y2="526.47" stroke="#222" stroke-width="0.9"/>
<line x1="550.30" y1="522.07" x2="555.10" y2="522.07" stroke="#222" stroke-width="0.9"/>
<line x1="550.30" y1="526.47" x2="555.10" y2="526.47" stroke="#222" stroke-width="0.9"/>
<text font-size="9.1" text-anchor="middle" fill="#2a2a2a" transform="translate(540.30 473.70) scale(1 1.02)">A a</text>
<text font-size="9.1" text-anchor="middle" fill="#2a2a2a" transform="translate(552.90 518.40) scale(1 1.02)">Bb</text>
<line x1="580.00" y1="606.20" x2="580.00" y2="611.40" stroke="#1a1a1a" stroke-width="1.6"/>
<text font-size="10.2" font-weight="bold" text-anchor="middle" fill="#000" transform="translate(580.00 622.50)">10</text>
<rect x="569.70" y="481.44" width="8.3" height="124.76" fill="#EA9B80" stroke="#5a3a30" stroke-width="0.8"/>
<line x1="573.85" y1="476.90" x2="573.85" y2="485.99" stroke="#3a2a25" stroke-width="0.9"/>
<line x1="571.45" y1="476.90" x2="576.25" y2="476.90" stroke="#3a2a25" stroke-width="0.9"/>
<line x1="571.45" y1="485.99" x2="576.25" y2="485.99" stroke="#3a2a25" stroke-width="0.9"/>
<rect x="582.20" y="511.60" width="8.6" height="94.60" fill="#8FBDF7" stroke="#33404f" stroke-width="0.8"/>
<line x1="586.50" y1="507.47" x2="586.50" y2="515.73" stroke="#222" stroke-width="0.9"/>
<line x1="584.10" y1="507.47" x2="588.90" y2="507.47" stroke="#222" stroke-width="0.9"/>
<line x1="584.10" y1="515.73" x2="588.90" y2="515.73" stroke="#222" stroke-width="0.9"/>
<text font-size="9.1" text-anchor="middle" fill="#2a2a2a" transform="translate(574.10 473.00) scale(1 1.02)">A a</text>
<text font-size="9.1" text-anchor="middle" fill="#2a2a2a" transform="translate(587.40 504.60) scale(1 1.02)">A b</text>
<line x1="393.90" y1="606.20" x2="598.40" y2="606.20" stroke="#1a1a1a" stroke-width="1.6"/>
<text font-size="11" font-weight="bold" text-anchor="middle" fill="#000" transform="translate(366.80 537.20) rotate(-90)" textLength="62.5" lengthAdjust="spacingAndGlyphs">Inhibition (%)</text>
<text font-size="10.5" font-weight="bold" text-anchor="middle" fill="#000" transform="translate(496.20 637.30)" textLength="104.1" lengthAdjust="spacingAndGlyphs">Concentration (mg/mL)</text>
<text font-size="15" text-anchor="middle" fill="#111" transform="translate(518.10 669.80) scale(1 1.13)">(F)</text>
<rect x="604" y="472" width="14.8" height="6.4" fill="#EA9B80" stroke="#5a3a30" stroke-width="0.8"/>
<rect x="604" y="487.4" width="14.8" height="7.4" fill="#8FBDF7" stroke="#33404f" stroke-width="0.8"/>
<text font-size="10.2" text-anchor="start" fill="#111" transform="translate(627.20 478.10)" textLength="37.4" lengthAdjust="spacingAndGlyphs">Acarbose</text>
<text font-size="10.2" text-anchor="start" fill="#111" transform="translate(627.20 494.80)" textLength="57.2" lengthAdjust="spacingAndGlyphs">α-Glucosidase</text>
</svg></body></html>
